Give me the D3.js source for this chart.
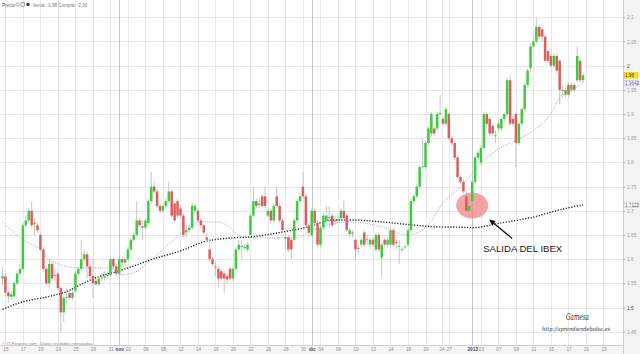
<!DOCTYPE html>
<html>
<head>
<meta charset="utf-8">
<script src="https://cdn.jsdelivr.net/npm/d3@7"></script>
<style>
  body { margin: 0; background: #fff; }
  svg { display: block; font-family: "Liberation Sans", Arial, sans-serif; }
</style>
</head>
<body>
<div id="chart"></div>
<script>
var W = 640, H = 354;
var plotRight = 623, plotBottom = 345.5;

// candles (3 per trading day)
var opens = [
  1.560,1.564,1.531,1.522,1.523,1.550,1.570,1.580,1.670,1.680,
  1.700,1.672,1.670,1.650,1.620,1.580,1.550,1.590,1.565,1.570,
  1.540,1.490,1.520,1.530,1.520,1.535,1.570,1.580,1.600,1.610,
  1.585,1.565,1.555,1.548,1.560,1.562,1.565,1.567,1.600,1.585,
  1.570,1.600,1.593,1.600,1.620,1.640,1.650,1.680,1.668,1.665,
  1.675,1.720,1.750,1.740,1.710,1.700,1.710,1.720,1.740,1.715,
  1.720,1.705,1.690,1.655,1.660,1.665,1.700,1.700,1.680,1.670,
  1.645,1.620,1.600,1.585,1.580,1.575,1.570,1.565,1.580,1.560,
  1.580,1.620,1.625,1.625,1.620,1.650,1.690,1.720,1.712,1.730,
  1.730,1.690,1.700,1.680,1.730,1.710,1.680,1.645,1.645,1.640,
  1.640,1.680,1.720,1.750,1.730,1.670,1.650,1.700,1.675,1.630,
  1.665,1.680,1.685,1.690,1.678,1.680,1.685,1.700,1.690,1.652,
  1.655,1.640,1.623,1.630,1.655,1.640,1.630,1.640,1.620,1.650,
  1.603,1.640,1.630,1.630,1.660,1.635,1.625,1.620,1.625,1.630,
  1.660,1.720,1.730,1.750,1.790,1.790,1.840,1.860,1.870,1.870,
  1.900,1.890,1.880,1.900,1.850,1.840,1.810,1.770,1.760,1.730,
  1.700,1.720,1.760,1.810,1.800,1.830,1.900,1.890,1.875,1.855,
  1.870,1.870,1.890,1.900,1.970,1.890,1.900,1.840,1.880,1.910,
  1.960,1.995,2.040,2.050,2.080,2.075,2.060,2.030,2.020,2.000,
  2.020,2.010,1.950,1.940,1.960,1.950,1.960,1.970,2.010,1.970
];
var highs = [
  1.585,1.570,1.535,1.535,1.555,1.575,1.590,1.675,1.690,1.705,
  1.720,1.685,1.675,1.655,1.625,1.585,1.600,1.595,1.580,1.575,
  1.545,1.525,1.540,1.535,1.535,1.575,1.585,1.640,1.620,1.615,
  1.590,1.600,1.560,1.565,1.570,1.575,1.575,1.605,1.605,1.590,
  1.605,1.605,1.605,1.625,1.645,1.655,1.720,1.685,1.680,1.685,
  1.725,1.780,1.760,1.745,1.715,1.715,1.725,1.760,1.745,1.720,
  1.725,1.710,1.695,1.670,1.675,1.715,1.715,1.705,1.685,1.672,
  1.655,1.640,1.605,1.595,1.585,1.580,1.575,1.570,1.585,1.585,
  1.625,1.640,1.640,1.630,1.635,1.695,1.750,1.725,1.725,1.735,
  1.750,1.705,1.705,1.715,1.750,1.715,1.685,1.655,1.650,1.645,
  1.685,1.725,1.740,1.780,1.735,1.675,1.705,1.705,1.680,1.670,
  1.695,1.710,1.710,1.695,1.690,1.690,1.705,1.720,1.695,1.665,
  1.660,1.645,1.630,1.645,1.660,1.650,1.645,1.645,1.655,1.655,
  1.635,1.645,1.645,1.665,1.665,1.640,1.640,1.625,1.630,1.665,
  1.725,1.735,1.755,1.795,1.850,1.845,1.875,1.905,1.875,1.905,
  1.940,1.895,1.915,1.905,1.855,1.845,1.815,1.775,1.765,1.740,
  1.715,1.765,1.815,1.825,1.835,1.905,1.905,1.895,1.880,1.865,
  1.885,1.895,1.905,1.975,1.980,1.895,1.905,1.885,1.915,1.965,
  1.995,2.045,2.060,2.100,2.085,2.080,2.065,2.035,2.025,2.025,
  2.025,2.015,1.960,1.955,1.965,1.965,1.965,2.040,2.015,1.985
];
var lows = [
  1.545,1.523,1.510,1.515,1.520,1.545,1.565,1.575,1.665,1.675,
  1.665,1.650,1.655,1.615,1.575,1.545,1.540,1.555,1.555,1.535,
  1.450,1.470,1.510,1.515,1.515,1.530,1.565,1.575,1.595,1.560,
  1.555,1.520,1.545,1.545,1.555,1.555,1.560,1.565,1.580,1.565,
  1.565,1.585,1.588,1.597,1.615,1.635,1.645,1.665,1.640,1.660,
  1.670,1.715,1.735,1.705,1.695,1.695,1.705,1.715,1.685,1.675,
  1.685,1.685,1.645,1.645,1.655,1.660,1.695,1.675,1.665,1.650,
  1.635,1.595,1.585,1.565,1.540,1.555,1.530,1.550,1.555,1.555,
  1.575,1.615,1.600,1.618,1.615,1.645,1.685,1.705,1.705,1.705,
  1.705,1.685,1.675,1.675,1.705,1.675,1.655,1.620,1.615,1.600,
  1.635,1.675,1.715,1.725,1.665,1.645,1.645,1.670,1.625,1.625,
  1.660,1.675,1.665,1.665,1.670,1.675,1.680,1.680,1.655,1.645,
  1.645,1.600,1.610,1.625,1.625,1.630,1.620,1.625,1.615,1.615,
  1.562,1.625,1.625,1.625,1.625,1.620,1.590,1.615,1.620,1.625,
  1.655,1.715,1.725,1.745,1.785,1.785,1.835,1.855,1.855,1.865,
  1.895,1.875,1.875,1.845,1.835,1.805,1.765,1.755,1.735,1.695,
  1.695,1.715,1.755,1.805,1.795,1.825,1.875,1.855,1.855,1.840,
  1.865,1.865,1.885,1.895,1.875,1.875,1.790,1.835,1.875,1.905,
  1.955,1.985,2.035,2.045,2.055,2.050,2.005,2.005,1.995,1.995,
  1.985,1.920,1.935,1.935,1.935,1.945,1.945,1.965,1.965,1.965
];
var closes = [
  1.565,1.531,1.523,1.527,1.550,1.570,1.580,1.670,1.680,1.700,
  1.670,1.675,1.660,1.620,1.580,1.550,1.590,1.560,1.567,1.540,
  1.490,1.520,1.522,1.520,1.530,1.570,1.580,1.600,1.610,1.585,
  1.565,1.550,1.548,1.560,1.562,1.565,1.567,1.600,1.585,1.570,
  1.600,1.593,1.600,1.620,1.640,1.650,1.680,1.670,1.665,1.680,
  1.720,1.750,1.740,1.710,1.700,1.710,1.720,1.740,1.690,1.680,
  1.690,1.690,1.650,1.660,1.665,1.710,1.710,1.680,1.670,1.655,
  1.640,1.600,1.590,1.583,1.560,1.560,1.560,1.558,1.560,1.580,
  1.620,1.630,1.627,1.624,1.630,1.690,1.720,1.710,1.715,1.710,
  1.710,1.700,1.680,1.710,1.710,1.680,1.660,1.643,1.620,1.620,
  1.680,1.720,1.730,1.730,1.670,1.655,1.700,1.675,1.630,1.665,
  1.690,1.690,1.687,1.670,1.680,1.682,1.700,1.685,1.660,1.660,
  1.653,1.620,1.622,1.640,1.630,1.641,1.640,1.630,1.650,1.620,
  1.630,1.630,1.640,1.660,1.630,1.633,1.627,1.621,1.626,1.660,
  1.720,1.730,1.750,1.790,1.792,1.840,1.870,1.900,1.860,1.900,
  1.902,1.880,1.910,1.850,1.840,1.810,1.770,1.760,1.740,1.700,
  1.710,1.760,1.810,1.820,1.830,1.900,1.880,1.860,1.860,1.856,
  1.880,1.890,1.900,1.970,1.880,1.880,1.840,1.880,1.910,1.960,
  1.990,2.040,2.050,2.080,2.060,2.060,2.010,2.010,2.000,2.020,
  1.990,1.950,1.948,1.950,1.940,1.960,1.950,2.020,1.970,1.980
];

// moving averages, read at sample candles
var maIdx   = [0, 7, 13, 16, 26, 37, 41, 45, 51, 62, 68, 74, 78, 82, 88, 101, 105, 113, 119, 130, 139, 146, 151, 157, 165, 171, 176, 182, 188, 191, 195, 199];
var maShort = [1.677, 1.640, 1.619, 1.599, 1.582, 1.582, 1.568, 1.572, 1.599, 1.656, 1.677, 1.677, 1.665, 1.646, 1.644, 1.644, 1.656, 1.673, 1.677, 1.667, 1.650, 1.671, 1.716, 1.749, 1.805, 1.831, 1.846, 1.866, 1.901, 1.934, 1.949, 1.9642];
var maLongIdx = [0, 6, 16, 22, 28, 33, 39, 45, 51, 62, 69, 79, 85, 96, 105, 113, 119, 130, 140, 148, 157, 161, 171, 182, 191, 199];
var maLong    = [1.496, 1.510, 1.523, 1.533, 1.551, 1.564, 1.574, 1.586, 1.599, 1.619, 1.636, 1.644, 1.646, 1.656, 1.667, 1.681, 1.681, 1.677, 1.671, 1.667, 1.666, 1.665, 1.675, 1.687, 1.702, 1.7122];

// x axis labels and the candle they sit on
var tickLabels = ["15","17","19","23","25","29","31","nov","02","06","08","12","14","16","20","22","26","28","30","dic","04","06","10","12","14","18","20","24","27","2013","03","07","09","11","15","17","21","23"];
var tickPos    = [1,7,13,19,25,31,37,40,43,49,55,61,67,73,79,85,91,97,103,106,109,115,121,127,133,139,145,150.5,153,161,164,170,176,182,188,194,200,206];

var exitCandle = 161, exitPrice = 1.711;

var x = d3.scaleLinear().domain([-0.857, 212.7]).range([0, plotRight]);
var y = d3.scaleLinear().domain([1.45, 2.1]).range([331.7, 17.3]);

function isMonth(i) { return isNaN(+tickLabels[i]) || tickLabels[i] == "2013"; }

var svg = d3.select("#chart").append("svg")
    .attr("width", W).attr("height", H);

svg.append("rect").attr("width", W).attr("height", H).attr("fill", "#fff");

// horizontal grid
svg.append("g").selectAll("line")
   .data(y.ticks(14)).enter().append("line")
   .attr("x1", 0).attr("x2", plotRight)
   .attr("y1", d => Math.round(y(d)) + 0.5).attr("y2", d => Math.round(y(d)) + 0.5)
   .attr("stroke", "#e8e8e8");

// vertical grid, month changes darker
svg.append("g").selectAll("line")
   .data(tickPos).enter().append("line")
   .attr("x1", d => Math.round(x(d)) + 0.5).attr("x2", d => Math.round(x(d)) + 0.5)
   .attr("y1", 0).attr("y2", plotBottom)
   .attr("stroke", (d, i) => isMonth(i) ? "#c4c4c4" : "#e8e8e8");

// highlight circle behind the candles
svg.append("ellipse")
   .attr("cx", x(exitCandle)).attr("cy", y(exitPrice))
   .attr("rx", 16).attr("ry", 13)
   .attr("fill", "#f27f7f").attr("opacity", 0.72);

// moving averages
var shortLine = d3.line().x((d, i) => x(maIdx[i])).y(d => y(d)).curve(d3.curveMonotoneX);
var longLine = d3.line().x((d, i) => x(maLongIdx[i])).y(d => y(d)).curve(d3.curveMonotoneX);

svg.append("path").attr("d", shortLine(maShort))
   .attr("fill", "none").attr("stroke", "#8c8fe0")
   .attr("stroke-width", 0.9).attr("stroke-dasharray", "1,1.4");

svg.append("path").attr("d", longLine(maLong))
   .attr("fill", "none").attr("stroke", "#222")
   .attr("stroke-width", 1.4).attr("stroke-dasharray", "1.2,1.6");

// candles
var candles = svg.append("g").selectAll("g")
    .data(closes).enter().append("g");

candles.append("line")
   .attr("x1", (d, i) => x(i)).attr("x2", (d, i) => x(i))
   .attr("y1", (d, i) => y(highs[i])).attr("y2", (d, i) => y(lows[i]))
   .attr("stroke", "#b8b8b8").attr("stroke-width", 0.8);

candles.append("rect")
   .attr("x", (d, i) => x(i) - 1.25)
   .attr("width", 2.5)
   .attr("y", (d, i) => y(Math.max(opens[i], d)))
   .attr("height", (d, i) => Math.max(0.8, Math.abs(y(opens[i]) - y(d))))
   .attr("fill", (d, i) => d >= opens[i] ? "#3fcb3f" : "#dc5e5e");

// annotation arrow + text
var cx = x(exitCandle), cy = y(exitPrice);
var tip = [cx + 17, cy + 14], tail = [cx + 40, cy + 33];
svg.append("line")
   .attr("x1", tail[0]).attr("y1", tail[1]).attr("x2", tip[0] + 3).attr("y2", tip[1] + 2.5)
   .attr("stroke", "#111").attr("stroke-width", 1.3);
var dx = tip[0] - tail[0], dy = tip[1] - tail[1], len = Math.sqrt(dx * dx + dy * dy);
var ux = dx / len, uy = dy / len;
svg.append("polygon")
   .attr("points", [
     [tip[0], tip[1]],
     [tip[0] - 6 * ux - 2.8 * uy, tip[1] - 6 * uy + 2.8 * ux],
     [tip[0] - 6 * ux + 2.8 * uy, tip[1] - 6 * uy - 2.8 * ux]
   ].map(p => p.join(",")).join(" "))
   .attr("fill", "#111");

svg.append("text")
   .attr("x", cx + 11).attr("y", cy + 47)
   .attr("font-size", "9.6px").attr("fill", "#222")
   .text("SALIDA DEL IBEX");

// watermark
svg.append("text")
   .attr("x", 566).attr("y", 320)
   .attr("font-family", "'DejaVu Serif', serif").attr("font-style", "italic")
   .attr("font-size", "9px").attr("fill", "#333")
   .attr("textLength", 23).attr("lengthAdjust", "spacingAndGlyphs")
   .text("Gamesa");
svg.append("text")
   .attr("x", 542).attr("y", 331)
   .attr("font-family", "'DejaVu Serif', serif").attr("font-style", "italic")
   .attr("font-size", "6px").attr("fill", "#333")
   .attr("textLength", 68).attr("lengthAdjust", "spacingAndGlyphs")
   .text("http://aprendiendebolsa.es");

// header
svg.append("text").attr("x", 2).attr("y", 6.5)
   .attr("font-size", "4.6px").attr("fill", "#666").text("Precio");
svg.append("circle").attr("cx", 17.5).attr("cy", 4.5).attr("r", 1.6)
   .attr("fill", "none").attr("stroke", "#777").attr("stroke-width", 0.6);
svg.append("rect").attr("x", 21).attr("y", 2.6).attr("width", 3.4).attr("height", 3.6)
   .attr("fill", "none").attr("stroke", "#777").attr("stroke-width", 0.6);
svg.append("circle").attr("cx", 28).attr("cy", 4.5).attr("r", 1.8).attr("fill", "#444");
svg.append("text").attr("x", 32.5).attr("y", 6.5)
   .attr("font-size", "4.6px").attr("fill", "#777").text("Venta : 1,98  Compra : 2,00");

// source line
svg.append("text").attr("x", 2).attr("y", 344.5)
   .attr("font-size", "4.4px").attr("fill", "#888")
   .text("© IT-Finance.com , Datos recibidos retrasados");

// bottom axis band
svg.append("rect").attr("x", 0).attr("y", plotBottom).attr("width", W).attr("height", H - plotBottom)
   .attr("fill", "#f5f5f5");
svg.append("line").attr("x1", 0).attr("x2", W).attr("y1", plotBottom).attr("y2", plotBottom)
   .attr("stroke", "#cfcfcf");

var xAxis = svg.append("g")
   .attr("transform", "translate(0," + plotBottom + ")")
   .call(d3.axisBottom(x).tickValues(tickPos).tickSize(0).tickPadding(2.5)
          .tickFormat((d, i) => tickLabels[i]));
xAxis.select(".domain").remove();
xAxis.selectAll("text").attr("font-size", "4.6px")
   .attr("font-family", "'Liberation Sans', Arial, sans-serif")
   .attr("fill", (d, i) => isMonth(i) ? "#444" : "#888")
   .attr("font-weight", (d, i) => isMonth(i) ? "bold" : null);

// right price panel
svg.append("rect").attr("x", plotRight).attr("y", 0).attr("width", W - plotRight).attr("height", H)
   .attr("fill", "#f3f3f3");
svg.append("line").attr("x1", plotRight + 0.5).attr("x2", plotRight + 0.5).attr("y1", 0).attr("y2", H)
   .attr("stroke", "#cfcfcf");

var yAxis = svg.append("g")
   .attr("transform", "translate(" + plotRight + ",0)")
   .call(d3.axisRight(y).ticks(14).tickSize(2).tickPadding(2).tickFormat(d3.format("~g")));
yAxis.select(".domain").remove();
yAxis.selectAll("line").attr("stroke", "#aaa");
yAxis.selectAll("text").attr("font-size", "4.8px")
   .attr("font-family", "'Liberation Sans', Arial, sans-serif")
   .attr("fill", d => (Math.abs(d - 2) < 1e-6 || Math.abs(d - 1.5) < 1e-6) ? "#444" : "#999");

// price tags on the axis
function tag(v, label, fill, stroke, color) {
  var g = svg.append("g").attr("transform", "translate(" + (plotRight + 1) + "," + y(v) + ")");
  g.append("rect").attr("x", 0).attr("y", -2.8).attr("width", 14).attr("height", 5.6)
   .attr("fill", fill).attr("stroke", stroke).attr("stroke-width", 0.5);
  g.append("text").attr("x", 1).attr("y", 1.7).attr("font-size", "4.6px")
   .attr("fill", color).text(label);
}
tag(maLong[maLong.length - 1], d3.format(".4f")(maLong[maLong.length - 1]), "#fff", "#bbb", "#555");
tag(maShort[maShort.length - 1], d3.format(".4f")(maShort[maShort.length - 1]), "#fff", "#99f", "#55c");
tag(closes[closes.length - 1], d3.format(".2f")(closes[closes.length - 1]), "#f4e21a", "#e0c800", "#333");
</script>
</body>
</html>
